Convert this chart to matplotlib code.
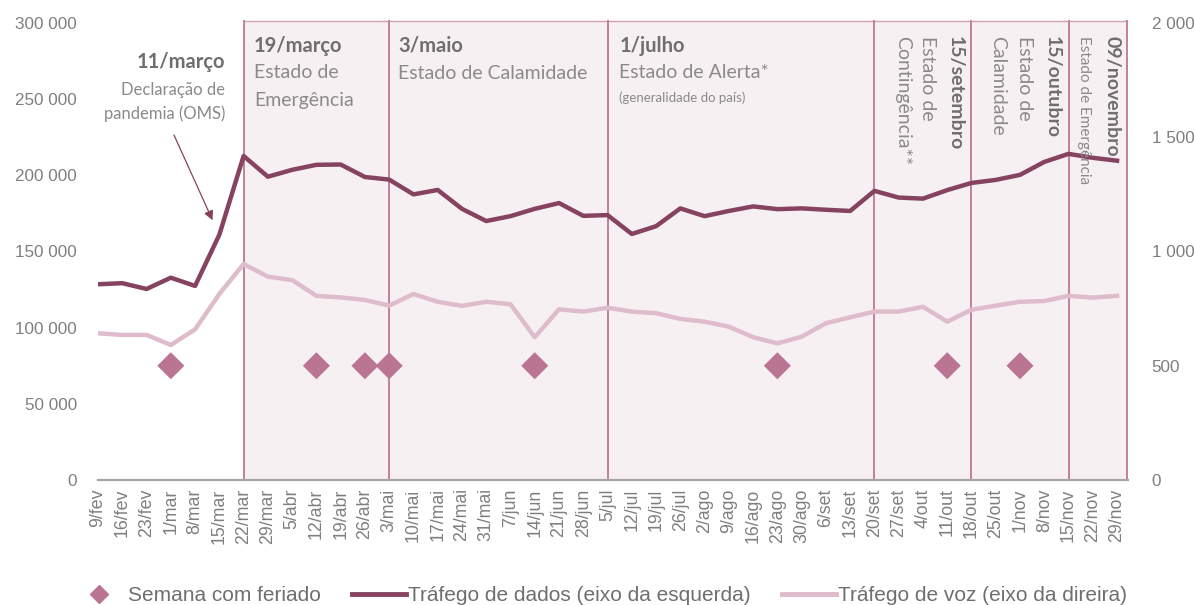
import matplotlib
matplotlib.use("Agg")
import matplotlib.pyplot as plt
from matplotlib.lines import Line2D
from matplotlib.patches import Rectangle

weeks = ["9/fev", "16/fev", "23/fev", "1/mar", "8/mar", "15/mar", "22/mar", "29/mar",
         "5/abr", "12/abr", "19/abr", "26/abr", "3/mai", "10/mai", "17/mai", "24/mai",
         "31/mai", "7/jun", "14/jun", "21/jun", "28/jun", "5/jul", "12/jul", "19/jul",
         "26/jul", "2/ago", "9/ago", "16/ago", "23/ago", "30/ago", "6/set", "13/set",
         "20/set", "27/set", "4/out", "11/out", "18/out", "25/out", "1/nov", "8/nov",
         "15/nov", "22/nov", "29/nov"]

# trafego de dados (eixo esquerdo)
dados = [128500, 129200, 125400, 132800, 127400, 161000, 212700, 199100, 203600,
         206900, 207100, 198900, 197200, 187500, 190400, 178000, 170000, 173200,
         178000, 181800, 173400, 173900, 161500, 166600, 178300, 173200, 176600,
         179600, 177800, 178300, 177400, 176600, 189800, 185400, 184700, 190300,
         195000, 197000, 200300, 208800, 214100, 211500, 209600]

# trafego de voz (eixo direito)
voz = [642, 635, 635, 591, 659, 814, 945, 890, 875, 806, 799, 788, 763, 814, 780,
       762, 780, 769, 625, 747, 737, 754, 737, 730, 705, 693, 671, 625, 598, 627,
       686, 712, 737, 737, 758, 693, 745, 763, 780, 783, 806, 798, 806]

feriados_idx = [3, 9, 11, 12, 18, 28, 35, 38]
feriado_val = 75000

# inicio de cada periodo (indice da semana) e fim do ultimo
periodos = [6, 12, 21, 32, 36, 40]
fim_periodos = 42.42

C_DADOS = "#86435f"
C_VOZ = "#dfbccb"
C_DIAM = "#ba7592"
C_BOX_FILL = "#f7f0f3"
C_BOX_EDGE = "#c27f9b"
C_TXT = "#7f7f7f"
C_BOLD = "#6e6e6e"
C_REG = "#8a8a8a"

plt.rcParams["font.family"] = ["Liberation Sans", "DejaVu Sans"]

fig = plt.figure(figsize=(11.94, 6.05), dpi=100)
ax = fig.add_axes([0.0821, 0.2066, 0.8626, 0.7554])
ax2 = ax.twinx()

x = list(range(len(weeks)))

# caixas dos periodos
bounds = periodos + [fim_periodos]
for a, b in zip(bounds[:-1], bounds[1:]):
    ax.add_patch(Rectangle((a, 0), b - a, 301500, facecolor=C_BOX_FILL,
                           edgecolor="none", zorder=0, clip_on=False))
    ax.plot([a, b], [301500, 301500], color=C_BOX_EDGE, lw=1.0, alpha=0.7,
            zorder=1, clip_on=False)
for b in bounds:
    ax.plot([b, b], [0, 301500], color=C_BOX_EDGE, lw=1.4, zorder=1, clip_on=False)

ax.plot(x, dados, color=C_DADOS, lw=3.2, solid_joinstyle="round", zorder=3)
ax.scatter(feriados_idx, [feriado_val] * len(feriados_idx), marker="D", s=190,
           color=C_DIAM, edgecolors="none", zorder=4)
ax2.plot(x, voz, color=C_VOZ, lw=3.2, solid_joinstyle="round", zorder=3)

ax.set_xlim(0, 42.45)
ax.set_ylim(0, 300000)
ax2.set_ylim(0, 2000)

ax.set_yticks(range(0, 300001, 50000))
ax.set_yticklabels([f"{v:,}".replace(",", " ") for v in range(0, 300001, 50000)])
ax2.set_yticks(range(0, 2001, 500))
ax2.set_yticklabels([f"{v:,}".replace(",", " ") for v in range(0, 2001, 500)])
ax.set_xticks(x)
ax.set_xticklabels(weeks, rotation=90)

for a in (ax, ax2):
    for s in ("top", "left", "right", "bottom"):
        a.spines[s].set_visible(False)
ax.plot([0, 42.45], [0, 0], color="#a6a6a6", lw=1.6, zorder=2, clip_on=False)

ax.tick_params(axis="y", length=0, pad=15, labelsize=12.3, labelcolor=C_TXT)
ax.tick_params(axis="x", length=0, pad=6, labelsize=12.8, labelcolor=C_TXT)
ax2.tick_params(axis="y", length=0, pad=17, labelsize=12.3, labelcolor=C_TXT)
ax2.patch.set_visible(False)

# anotacoes
fnt = ["Lato", "DejaVu Sans"]
ax.text(5.23, 274400, "11/março", ha="right", va="center", fontsize=14.5,
        fontweight="bold", color=C_BOLD, family=fnt)
ax.text(5.23, 256200, "Declaração de", ha="right", va="center", fontsize=12,
        color=C_REG, family=fnt)
ax.text(5.23, 240300, "pandemia (OMS)", ha="right", va="center", fontsize=12,
        color=C_REG, family=fnt)
ax.annotate("", xy=(4.72, 170500), xytext=(3.13, 226500),
            arrowprops=dict(arrowstyle="-|>", color=C_DADOS, lw=0.9,
                            mutation_scale=14, shrinkA=0, shrinkB=0), zorder=5)

ax.text(6.43, 284900, "19/março", ha="left", va="center", fontsize=14.5,
        fontweight="bold", color=C_BOLD, family=fnt)
ax.text(6.43, 267200, "Estado de", ha="left", va="center", fontsize=14,
        color=C_REG, family=fnt)
ax.text(6.43, 248800, "Emergência", ha="left", va="center", fontsize=14,
        color=C_REG, family=fnt)

ax.text(12.37, 284900, "3/maio", ha="left", va="center", fontsize=14.5,
        fontweight="bold", color=C_BOLD, family=fnt)
ax.text(12.37, 266600, "Estado de Calamidade", ha="left", va="center", fontsize=14,
        color=C_REG, family=fnt)

ax.text(21.48, 284900, "1/julho", ha="left", va="center", fontsize=14.5,
        fontweight="bold", color=C_BOLD, family=fnt)
ax.text(21.48, 267200, "Estado de Alerta*", ha="left", va="center", fontsize=14,
        color=C_REG, family=fnt)
ax.text(21.48, 250800, "(generalidade do país)", ha="left", va="center",
        fontsize=9.5, color=C_REG, family=fnt)

top = 291500
ax.text(35.33, top, "15/setembro", rotation=270, ha="center", va="top",
        fontsize=14, fontweight="bold", color=C_BOLD, family=fnt)
ax.text(34.17, top, "Estado de", rotation=270, ha="center", va="top",
        fontsize=14, color=C_REG, family=fnt)
ax.text(33.18, top, "Contingência**", rotation=270, ha="center", va="top",
        fontsize=14, color=C_REG, family=fnt)

ax.text(39.32, top, "15/outubro", rotation=270, ha="center", va="top",
        fontsize=14, fontweight="bold", color=C_BOLD, family=fnt)
ax.text(38.17, top, "Estado de", rotation=270, ha="center", va="top",
        fontsize=14, color=C_REG, family=fnt)
ax.text(37.06, top, "Calamidade", rotation=270, ha="center", va="top",
        fontsize=14, color=C_REG, family=fnt)

ax.text(41.80, top, "09/novembro", rotation=270, ha="center", va="top",
        fontsize=14, fontweight="bold", color=C_BOLD, family=fnt)
ax.text(40.64, top, "Estado de Emergência", rotation=270, ha="center", va="top",
        fontsize=11, color=C_REG, family=fnt)

handles = [
    Line2D([], [], marker="D", color=C_DIAM, ls="none", markersize=9),
    Line2D([], [], color=C_DADOS, lw=3.5),
    Line2D([], [], color=C_VOZ, lw=3.5),
]
labels = ["Semana com feriado", "Tráfego de dados (eixo da esquerda)",
          "Tráfego de voz (eixo da direira)"]
fig.legend(handles, labels, loc="center", bbox_to_anchor=(0.502, 0.015), ncol=3,
           frameon=False, fontsize=15, handlelength=2.6, handletextpad=0.1,
           columnspacing=1.5, labelcolor="#6f6f6f")

fig.savefig("out.png", dpi=100)
